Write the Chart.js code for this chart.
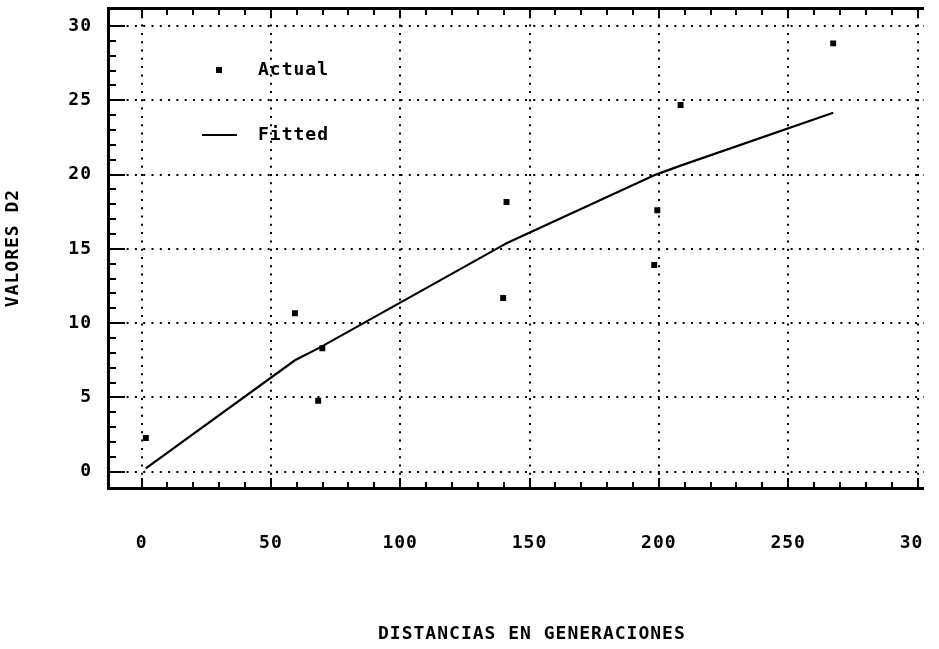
<!DOCTYPE html>
<html>
<head>
<meta charset="utf-8">
<title>Valores D2</title>
<script src="https://cdn.jsdelivr.net/npm/chart.js@4.4.1/dist/chart.umd.min.js"></script>
<style>
    html, body { margin: 0; padding: 0; background: #fff; overflow: hidden; }
    /* the scanned plot is cut off a little before the right edge */
    .chart-box { width: 924px; height: 649px; overflow: hidden; }
</style>
</head>
<body>
<div class="chart-box"><canvas id="chart" width="960" height="649"></canvas></div>
<script>
// ===== DATA =====
const actualX = [1.65, 59.3, 68.3, 69.9, 139.8, 141.1, 198.2, 199.4, 208.4, 267.4];
const actualY = [2.27, 10.66, 4.78, 8.31, 11.69, 18.15, 13.91, 17.6, 24.68, 28.83];
const fittedX = [1.65, 59.3, 68.3, 69.9, 139.8, 141.1, 198.2, 199.4, 208.4, 267.4];
const fittedY = [0.23, 7.5, 8.3, 8.45, 15.25, 15.38, 19.95, 20.03, 20.6, 24.16];
const xTicks = [0, 50, 100, 150, 200, 250, 300];
const yTicks = [0, 5, 10, 15, 20, 25, 30];
const xTitle = 'DISTANCIAS EN GENERACIONES';
const yTitle = 'VALORES D2';

function toPoints(xs, ys) {
    return xs.map((x, i) => ({ x: x, y: ys[i] }));
}

// ===== PLUGINS =====
// old plotter text is wide, so give canvas text a little tracking
const wideText = {
    id: 'wideText',
    beforeUpdate(chart) { chart.ctx.letterSpacing = '1px'; },
    beforeDraw(chart) { chart.ctx.letterSpacing = '1px'; }
};

// inward tick marks on left, top and bottom edges
const innerTicks = {
    id: 'innerTicks',
    afterDraw(chart) {
        const { ctx, chartArea, scales } = chart;
        ctx.save();
        ctx.strokeStyle = '#000';
        ctx.lineWidth = 2;
        ctx.beginPath();
        for (let v = 0; v <= 30; v++) {
            const py = Math.round(scales.y.getPixelForValue(v));
            ctx.moveTo(chartArea.left, py);
            ctx.lineTo(chartArea.left + (v % 5 === 0 ? 17 : 8), py);
        }
        for (let v = 0; v <= 310; v += 10) {
            const px = Math.round(scales.x.getPixelForValue(v));
            const major = v % 50 === 0;
            ctx.moveTo(px, chartArea.top);
            ctx.lineTo(px, chartArea.top + (major ? 9 : 7));
            ctx.moveTo(px, chartArea.bottom);
            ctx.lineTo(px, chartArea.bottom - (major ? 10 : 6));
        }
        ctx.stroke();
        ctx.restore();
    }
};

// legend sits inside the plot, top left
const insideLegend = {
    id: 'insideLegend',
    afterDatasetsDraw(chart) {
        const { ctx, chartArea } = chart;
        const sets = chart.data.datasets;
        const left = chartArea.left;
        const top = chartArea.top;
        ctx.save();
        ctx.fillStyle = '#000';
        ctx.strokeStyle = '#000';
        ctx.fillRect(left + 108, top + 59, 6, 6);
        ctx.lineWidth = 2;
        ctx.beginPath();
        ctx.moveTo(left + 94, top + 127);
        ctx.lineTo(left + 129, top + 127);
        ctx.stroke();
        ctx.font = "bold 18px 'DejaVu Sans Mono', monospace";
        ctx.textAlign = 'left';
        ctx.textBaseline = 'middle';
        ctx.fillText(sets[0].label, left + 150, top + 62);
        ctx.fillText(sets[1].label, left + 150, top + 127);
        ctx.restore();
    }
};

// ===== CHART =====
Chart.defaults.font.family = "'DejaVu Sans Mono', monospace";
Chart.defaults.font.size = 18;
Chart.defaults.font.weight = 'bold';
Chart.defaults.color = '#000';

const gridStyle = { color: '#000', lineWidth: 2, drawTicks: false };
const borderStyle = { color: '#000', width: 3, dash: [2, 6.3] };

new Chart(document.getElementById('chart'), {
    type: 'scatter',
    data: {
        datasets: [{
            label: 'Actual',
            data: toPoints(actualX, actualY),
            pointStyle: 'rect',
            pointRadius: 4.2,
            pointHoverRadius: 4.2,
            backgroundColor: '#000',
            borderWidth: 0
        }, {
            label: 'Fitted',
            data: toPoints(fittedX, fittedY),
            showLine: true,
            pointRadius: 0,
            borderColor: '#000',
            borderWidth: 2.2,
            tension: 0
        }]
    },
    options: {
        responsive: false,
        animation: false,
        layout: { padding: 0 },
        plugins: {
            legend: { display: false },
            tooltip: { enabled: false }
        },
        scales: {
            x: {
                type: 'linear',
                position: 'bottom',
                min: -12.97,
                max: 314.8,
                afterBuildTicks: s => { s.ticks = xTicks.map(v => ({ value: v })); },
                afterFit: s => { s.height = 161; s.paddingLeft = 0; s.paddingRight = 0; },
                ticks: { padding: 44.7, maxRotation: 0, autoSkip: false },
                grid: gridStyle,
                border: borderStyle,
                title: { display: true, text: xTitle, padding: { top: 0, bottom: 4 } }
            },
            x2: {
                type: 'linear',
                position: 'top',
                min: -12.97,
                max: 314.8,
                afterFit: s => { s.height = 8; s.paddingLeft = 0; s.paddingRight = 0; },
                ticks: { display: false },
                grid: { drawOnChartArea: false, drawTicks: false },
                border: { color: '#000', width: 3 }
            },
            y: {
                type: 'linear',
                position: 'left',
                min: -1.097,
                max: 31.21,
                afterBuildTicks: s => { s.ticks = yTicks.map(v => ({ value: v })); },
                afterFit: s => { s.width = 108; s.paddingTop = 0; s.paddingBottom = 0; },
                ticks: { padding: 16 },
                grid: gridStyle,
                border: borderStyle,
                title: { display: true, text: yTitle, padding: { top: 3, bottom: 0 } }
            }
        }
    },
    plugins: [wideText, innerTicks, insideLegend]
});
</script>
</body>
</html>
